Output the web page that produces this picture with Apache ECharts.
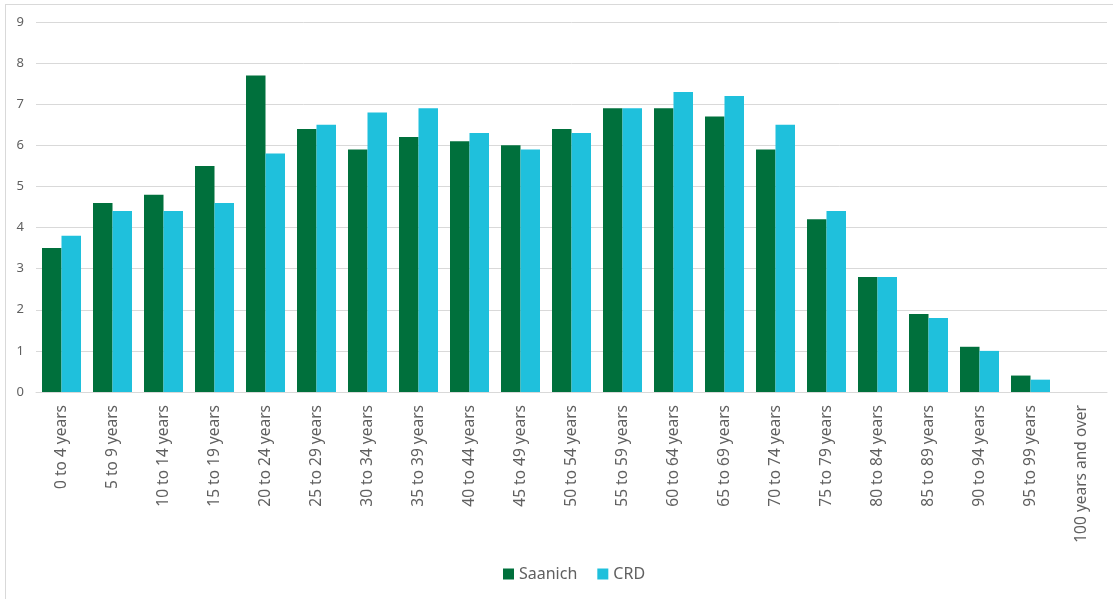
<!DOCTYPE html>
<html>
<head>
<meta charset="utf-8">
<script src="https://cdn.jsdelivr.net/npm/echarts@6/dist/echarts.min.js"></script>
<style>
  html, body { margin: 0; padding: 0; background: #fff; }
  #chart { position: absolute; left: 0; top: 0; width: 1113px; height: 599px; }
  #frame { position: absolute; left: 5px; top: 4px; width: 1120px; height: 700px;
           border: 1px solid #d9d9d9; pointer-events: none; }
</style>
</head>
<body>
<div id="chart"></div>
<div id="frame"></div>
<script>
const ageGroups = [
  "0 to 4 years", "5 to 9 years", "10 to 14 years", "15 to 19 years",
  "20 to 24 years", "25 to 29 years", "30 to 34 years", "35 to 39 years",
  "40 to 44 years", "45 to 49 years", "50 to 54 years", "55 to 59 years",
  "60 to 64 years", "65 to 69 years", "70 to 74 years", "75 to 79 years",
  "80 to 84 years", "85 to 89 years", "90 to 94 years", "95 to 99 years",
  "100 years and over",
];
const saanich = [3.5, 4.6, 4.8, 5.5, 7.7, 6.4, 5.9, 6.2, 6.1, 6.0, 6.4, 6.9, 6.9, 6.7, 5.9, 4.2, 2.8, 1.9, 1.1, 0.4, 0];
const crd = [3.8, 4.4, 4.4, 4.6, 5.8, 6.5, 6.8, 6.9, 6.3, 5.9, 6.3, 6.9, 7.3, 7.2, 6.5, 4.4, 2.8, 1.8, 1.0, 0.3, 0];

const FONT = "Noto Sans, sans-serif";
const TEXT = "#606060";

const chart = echarts.init(document.getElementById("chart"));
chart.setOption({
  animation: false,
  grid: { left: 36, right: 6, top: 22, bottom: 207 },
  xAxis: {
    type: "category",
    data: ageGroups,
    axisLine: { lineStyle: { color: "#d9d9d9", width: 1 } },
    axisTick: { show: false },
    axisLabel: { rotate: 90, color: TEXT, fontFamily: FONT, fontSize: 15.5, margin: 13, interval: 0 },
  },
  yAxis: {
    type: "value",
    min: 0, max: 9, interval: 1,
    axisLine: { show: false },
    axisTick: { show: false },
    axisLabel: { color: TEXT, fontFamily: FONT, fontSize: 13, margin: 12 },
    splitLine: { lineStyle: { color: "#d9d9d9", width: 1 } },
  },
  legend: {
    bottom: 12,
    left: 498,
    itemWidth: 11, itemHeight: 11, itemGap: 20,
    icon: "rect",
    textStyle: { color: TEXT, fontFamily: FONT, fontSize: 16 },
    data: ["Saanich", "CRD"],
  },
  series: [
    {
      name: "Saanich", type: "bar", data: saanich,
      barWidth: 19.5, barGap: "0%",
      itemStyle: { color: "#00703c" },
    },
    {
      name: "CRD", type: "bar", data: crd,
      barWidth: 19.5, barGap: "0%",
      itemStyle: { color: "#1fc0dc" },
    },
  ],
});
</script>
</body>
</html>
